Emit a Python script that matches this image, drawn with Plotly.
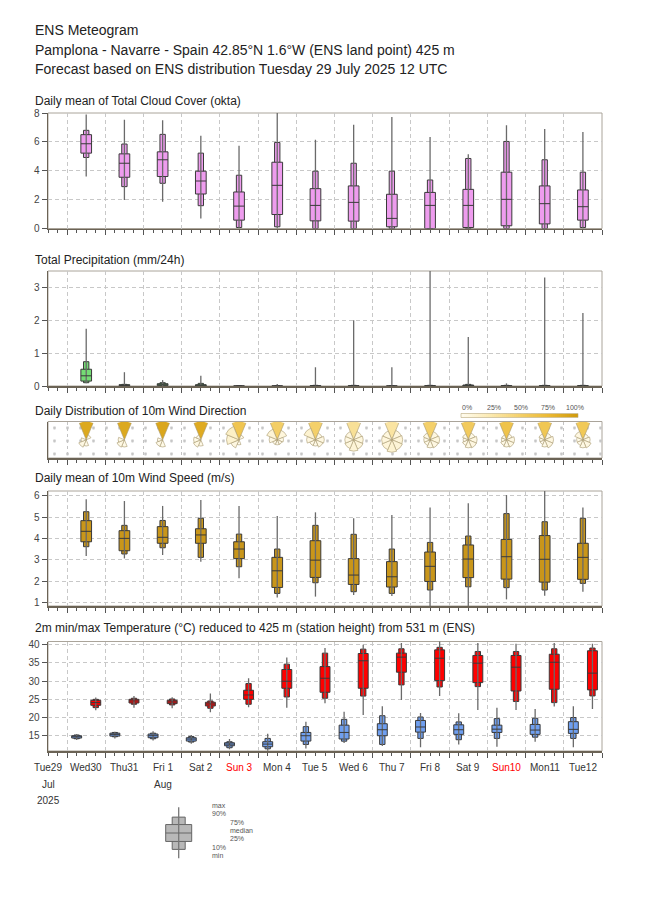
import plotly.graph_objects as go
import numpy as np

W, H = 650, 916
FONT = "Liberation Sans, Arial, Helvetica, sans-serif"

# ---------------- data ----------------
day_labels = ["Tue29", "Wed30", "Thu31", "Fri 1", "Sat 2", "Sun 3", "Mon 4", "Tue 5",
              "Wed 6", "Thu 7", "Fri 8", "Sat 9", "Sun10", "Mon11", "Tue12"]
sunday_labels = ["Sun 3", "Sun10"]
month_labels = ["Jul", "Aug"]
month_label_day = [0, 3]
year_label = "2025"
forecast_days = list(range(1, 15))   # Wed30 .. Tue12

# Total cloud cover (okta): min, p10, p25, median, p75, p90, max
cc_min = [3.6, 1.97, 1.86, 0.7, 0, 0, 0, 0, 0, 0, 0, 0, 0, 0]
cc_p10 = [4.92, 2.9, 3.13, 1.58, 0.07, 0.12, 0, 0, 0, 0, 0, 0, 0, 0.07]
cc_p25 = [5.22, 3.55, 3.6, 2.39, 0.58, 0.97, 0.53, 0.51, 0.12, 0, 0.07, 0.19, 0.32, 0.58]
cc_med = [5.87, 4.52, 4.76, 3.29, 1.55, 2.99, 1.6, 1.81, 0.7, 1.6, 1.6, 2.02, 1.72, 1.51]
cc_p75 = [6.5, 5.17, 5.31, 3.97, 2.53, 4.59, 2.76, 2.95, 2.37, 2.5, 2.71, 3.9, 2.95, 2.67]
cc_p90 = [6.8, 5.85, 6.52, 5.22, 3.69, 5.96, 3.97, 4.52, 3.97, 3.36, 4.85, 6.03, 4.76, 3.9]
cc_max = [7.9, 7.54, 7.49, 6.43, 5.73, 8.0, 6.15, 7.19, 7.73, 6.33, 5.15, 7.15, 6.89, 6.68]

# Total precipitation (mm/24h)
pr_min = [0.08, 0, 0, 0, 0, 0, 0, 0, 0, 0, 0, 0, 0, 0]
pr_p10 = [0.1, 0, 0, 0, 0, 0, 0, 0, 0, 0, 0, 0, 0, 0]
pr_p25 = [0.15, 0.01, 0.01, 0, 0, 0, 0, 0, 0, 0, 0, 0, 0, 0]
pr_med = [0.31, 0.02, 0.04, 0.02, 0, 0, 0, 0, 0, 0, 0.01, 0, 0, 0]
pr_p75 = [0.51, 0.04, 0.07, 0.04, 0, 0, 0.01, 0.01, 0, 0.01, 0.03, 0.01, 0.01, 0.01]
pr_p90 = [0.74, 0.05, 0.1, 0.08, 0, 0, 0.02, 0.02, 0, 0.02, 0.05, 0.02, 0.02, 0.02]
pr_max = [1.74, 0.42, 0.18, 0.31, 0.0, 0.06, 0.57, 2.0, 0.57, 4.0, 1.49, 0.08, 3.3, 2.22]

# 10m wind direction: daily frequency per sector N, NE, E, SE, S, SW, W, NW
wd_sectors = [0, 45, 90, 135, 180, 225, 270, 315]
wd_freq = [
    [0.88, 0.02, 0.00, 0.00, 0.03, 0.05, 0.02, 0.00],
    [0.88, 0.00, 0.00, 0.00, 0.04, 0.05, 0.03, 0.00],
    [0.90, 0.00, 0.00, 0.00, 0.04, 0.04, 0.02, 0.00],
    [0.86, 0.00, 0.00, 0.00, 0.03, 0.05, 0.04, 0.02],
    [0.62, 0.02, 0.00, 0.00, 0.02, 0.06, 0.12, 0.16],
    [0.52, 0.08, 0.03, 0.02, 0.02, 0.02, 0.05, 0.10],
    [0.50, 0.04, 0.06, 0.05, 0.03, 0.03, 0.06, 0.12],
    [0.34, 0.06, 0.07, 0.08, 0.10, 0.07, 0.06, 0.06],
    [0.30, 0.08, 0.09, 0.10, 0.12, 0.09, 0.08, 0.07],
    [0.50, 0.06, 0.07, 0.06, 0.05, 0.03, 0.03, 0.04],
    [0.56, 0.04, 0.06, 0.06, 0.05, 0.03, 0.02, 0.03],
    [0.64, 0.03, 0.05, 0.05, 0.04, 0.03, 0.02, 0.02],
    [0.60, 0.04, 0.06, 0.06, 0.04, 0.02, 0.02, 0.03],
    [0.58, 0.03, 0.04, 0.06, 0.05, 0.03, 0.03, 0.06],
]
wd_scale_ticks = [0, 0.25, 0.5, 0.75, 1.0]
wd_scale_text = ["0%", "25%", "50%", "75%", "100%"]

# 10m wind speed (m/s)
ws_min = [3.17, 3.06, 3.22, 2.9, 2.13, 1.23, 1.27, 1.34, 1.3, 0.75, 0.8, 1.14, 1.31, 1.5]
ws_p10 = [3.61, 3.27, 3.56, 3.11, 2.67, 1.42, 1.92, 1.5, 1.42, 1.58, 1.73, 1.69, 1.58, 1.89]
ws_p25 = [3.84, 3.42, 3.77, 3.77, 3.05, 1.7, 2.17, 1.84, 1.72, 1.98, 2.16, 2.09, 1.95, 2.08]
ws_med = [4.33, 4.0, 4.05, 4.16, 3.5, 2.48, 2.98, 2.28, 2.2, 2.69, 3.03, 3.14, 3.02, 3.11]
ws_p75 = [4.83, 4.36, 4.55, 4.45, 3.84, 3.11, 3.89, 3.05, 2.91, 3.36, 3.69, 3.95, 4.13, 3.77]
ws_p90 = [5.25, 4.61, 4.84, 4.94, 4.2, 3.5, 4.61, 4.19, 3.5, 3.81, 4.11, 5.16, 4.78, 4.94]
ws_max = [5.83, 5.75, 5.52, 5.8, 5.52, 5.05, 5.22, 4.94, 5.09, 5.45, 5.64, 6.03, 6.3, 5.45]

# 2m minimum temperature (°C)
tn_min = [13.8, 14.26, 13.7, 12.8, 11.3, 10.86, 11.5, 13.0, 12.2, 11.8, 12.6, 12.0, 13.35, 11.8]
tn_p10 = [14.17, 14.72, 14.17, 13.25, 11.7, 11.4, 12.6, 13.5, 12.6, 14.26, 13.9, 14.26, 14.6, 14.26]
tn_p25 = [14.36, 14.9, 14.45, 13.53, 12.24, 11.97, 13.53, 14.1, 15.0, 16.0, 15.37, 15.9, 15.37, 15.64]
tn_med = [14.72, 15.37, 15.0, 14.08, 12.7, 12.7, 15.0, 15.9, 16.65, 17.4, 16.65, 16.8, 16.56, 16.75]
tn_p75 = [15.0, 15.7, 15.46, 14.45, 13.07, 13.35, 15.9, 17.9, 18.3, 19.2, 18.0, 17.9, 18.1, 18.86]
tn_p90 = [15.2, 15.9, 15.7, 14.8, 13.35, 14.26, 17.5, 19.5, 20.5, 20.15, 18.8, 19.7, 19.8, 20.0]
tn_max = [15.46, 16.1, 16.2, 15.2, 14.1, 15.55, 18.86, 21.6, 23.1, 21.25, 21.2, 22.7, 22.35, 23.1]

# 2m maximum temperature (°C)
tx_min = [22.0, 22.72, 22.54, 21.43, 22.8, 22.72, 23.9, 20.7, 24.83, 25.94, 22.1, 22.1, 23.0, 22.35]
tx_p10 = [22.72, 23.64, 23.46, 22.54, 23.64, 25.66, 25.3, 25.9, 28.97, 28.4, 28.5, 24.4, 24.1, 25.94]
tx_p25 = [23.36, 24.0, 23.82, 23.18, 25.0, 28.05, 26.95, 28.05, 32.46, 30.16, 29.6, 27.3, 27.78, 27.6]
tx_med = [24.1, 24.56, 24.28, 23.73, 26.2, 29.98, 30.8, 35.6, 36.6, 36.3, 34.94, 33.84, 35.2, 32.2]
tx_p75 = [24.74, 25.0, 24.74, 24.2, 27.5, 33.2, 34.0, 37.6, 37.7, 38.6, 37.06, 37.06, 37.4, 38.35]
tx_p90 = [25.0, 25.3, 25.1, 24.56, 29.34, 34.67, 37.7, 38.8, 38.9, 39.3, 38.16, 38.16, 38.9, 39.1]
tx_max = [25.5, 25.94, 25.57, 26.6, 30.8, 36.5, 39.1, 40.0, 40.5, 41.5, 40.5, 40.3, 40.5, 40.3]

# legend (schematic box)
legend_q = [0, 9, 17, 25.5, 34, 41.5, 51.5]
legend_text = ["max", "90%", "75%", "median", "25%", "10%", "min"]

# ---------------- helpers ----------------
def py(p):
    return 1 - p / H

def px(p):
    return p / W

X_LEFT, X_RIGHT = 48, 602
XRANGE = [0.5, 15.0]
panels = [  # (top px, bottom px)
    (113, 228.5),   # cloud
    (271, 386),     # precip
    (421.5, 458),   # wind dir
    (491, 606),     # wind speed
    (641.5, 751),   # temperature
]

fig = go.Figure()

def axn(i):
    return ("x" if i == 1 else f"x{i}"), ("y" if i == 1 else f"y{i}")

def add_boxes(ax, xs, q, fill, wide, narrow, whisk="#6a6a6a", edge="#3a3a3a"):
    mn, p10, p25, med, p75, p90, mx = [np.asarray(v, float) for v in q]
    xa, ya = axn(ax)
    wx, wy = [], []
    for c, a, b in zip(xs, mn, mx):
        wx += [c, c, None]
        wy += [a, b, None]
    fig.add_trace(go.Scatter(x=wx, y=wy, mode="lines", line=dict(color=whisk, width=1.3),
                             xaxis=xa, yaxis=ya, hoverinfo="skip", showlegend=False))
    fig.add_trace(go.Bar(x=xs, y=p90 - p10, base=p10, width=narrow,
                         marker=dict(color=fill, line=dict(color=edge, width=1)),
                         xaxis=xa, yaxis=ya, showlegend=False, hoverinfo="skip"))
    fig.add_trace(go.Bar(x=xs, y=p75 - p25, base=p25, width=wide,
                         marker=dict(color=fill, line=dict(color=edge, width=1)),
                         xaxis=xa, yaxis=ya, showlegend=False, hoverinfo="skip"))
    mx_, my_ = [], []
    for c, m in zip(xs, med):
        mx_ += [c - wide / 2, c + wide / 2, None]
        my_ += [m, m, None]
    fig.add_trace(go.Scatter(x=mx_, y=my_, mode="lines", line=dict(color=edge, width=1),
                             xaxis=xa, yaxis=ya, hoverinfo="skip", showlegend=False))

days = np.asarray(forecast_days, float)
noon = days + 0.5
morning = days + 0.25
evening = days + 0.75

add_boxes(1, noon, [cc_min, cc_p10, cc_p25, cc_med, cc_p75, cc_p90, cc_max], "#ee9cee", 0.28, 0.14)
add_boxes(2, noon, [pr_min, pr_p10, pr_p25, pr_med, pr_p75, pr_p90, pr_max], "#74dc74", 0.28, 0.14)
add_boxes(4, noon, [ws_min, ws_p10, ws_p25, ws_med, ws_p75, ws_p90, ws_max], "#c9961a", 0.28, 0.14)
add_boxes(5, morning, [tn_min, tn_p10, tn_p25, tn_med, tn_p75, tn_p90, tn_max], "#6f9ff0", 0.26, 0.14)
add_boxes(5, evening, [tx_min, tx_p10, tx_p25, tx_med, tx_p75, tx_p90, tx_max], "#ff0000", 0.26, 0.14)

# stippled background of the wind-direction panel
fig.add_trace(go.Bar(x=[(XRANGE[0] + XRANGE[1]) / 2], y=[1], base=[0],
                     width=[XRANGE[1] - XRANGE[0]], xaxis="x3", yaxis="y3",
                     marker=dict(color="rgba(255,255,255,0)", line=dict(width=0),
                                 pattern=dict(shape=".", fgcolor="#c4c4c4",
                                              bgcolor="rgba(255,255,255,0)",
                                              size=13, solidity=0.04)),
                     hoverinfo="skip", showlegend=False))

# legend schematic
add_boxes(6, [0.0], [[v] for v in legend_q], "#b8b8b8", 1.0, 0.5, whisk="#777777", edge="#666666")

# ---------------- axes ----------------
grid_dash = "4px,3px"
yticks = [[0, 2, 4, 6, 8], [0, 1, 2, 3], None, [1, 2, 3, 4, 5, 6], [15, 20, 25, 30, 35, 40]]
yranges = [[0, 8], [0, 3.5], [0, 1], [0.83, 6.22], [10.8, 40.9]]

layout = dict(template="none", width=W, height=H, autosize=False,
              margin=dict(l=0, r=0, t=0, b=0, pad=0, autoexpand=False),
              paper_bgcolor="white", plot_bgcolor="white", barmode="overlay",
              font=dict(family=FONT, color="#333333"), showlegend=False, hovermode=False)
shapes = []
for i, (top, bot) in enumerate(panels, start=1):
    xk = "xaxis" if i == 1 else f"xaxis{i}"
    yk = "yaxis" if i == 1 else f"yaxis{i}"
    wd = (i == 3)
    layout[xk] = dict(domain=[px(X_LEFT), px(X_RIGHT)], range=XRANGE, type="linear",
                      anchor=axn(i)[1], showticklabels=False, ticks="outside", ticklen=5,
                      tickcolor="#555555", tick0=0, dtick=1, showgrid=True,
                      gridcolor="#c8c8c8" if not wd else "#c4c4c4",
                      griddash="dot" if wd else grid_dash, gridwidth=1,
                      showline=True, linecolor="#6b6355", linewidth=1.5, zeroline=False,
                      automargin=False,
                      minor=dict(dtick=0.25, tick0=0, ticks="outside", ticklen=3,
                                 tickcolor="#555555", showgrid=False),
                      fixedrange=True)
    ydict = dict(domain=[py(bot), py(top)], range=yranges[i - 1], anchor=axn(i)[0],
                 type="linear", showline=True, linecolor="#6b6355", linewidth=1.5,
                 zeroline=False, showgrid=True, gridcolor="#c8c8c8", griddash=grid_dash,
                 gridwidth=1, fixedrange=True, automargin=False)
    if wd:
        ydict.update(showticklabels=False, ticks="", showgrid=False)
    else:
        ydict.update(tickvals=yticks[i - 1], ticks="outside", ticklen=5, tickcolor="#555555",
                     tickfont=dict(size=10, color="#444444"))
    layout[yk] = ydict
    shapes.append(dict(type="rect", xref=f"{axn(i)[0]} domain", yref=f"{axn(i)[1]} domain",
                       x0=0, x1=1, y0=0, y1=1, line=dict(color="#aaa49a", width=1),
                       layer="below"))

# legend axes
layout["xaxis6"] = dict(domain=[px(163.1), px(194.3)], range=[-0.6, 0.6], visible=False,
                        anchor="y6", fixedrange=True, automargin=False)
layout["yaxis6"] = dict(domain=[py(860.3), py(804.7)], range=[-2, 54], visible=False,
                        anchor="x6", fixedrange=True, automargin=False)

# ---------------- wind roses ----------------
colorscale = [[0, "#fffcf0"], [0.25, "#fbe9b0"], [0.5, "#f4d06a"], [0.75, "#ebb933"],
              [1, "#cf9a0c"]]
rmax = np.sqrt(0.25)
cy = (panels[2][0] + panels[2][1]) / 2
rpx = 18
span_px = (X_RIGHT - X_LEFT) / (XRANGE[1] - XRANGE[0])
for k, (d, freqs) in enumerate(zip(noon, wd_freq)):
    key = "polar" if k == 0 else f"polar{k + 1}"
    cx = X_LEFT + (d - XRANGE[0]) * span_px
    layout[key] = dict(domain=dict(x=[px(cx - rpx), px(cx + rpx)], y=[py(cy + rpx), py(cy - rpx)]),
                       bgcolor="rgba(0,0,0,0)",
                       radialaxis=dict(visible=False, range=[0, rmax]),
                       angularaxis=dict(visible=False, rotation=90, direction="clockwise"))
    f = np.asarray(freqs, float)
    mk = dict(color=f, colorscale=colorscale, cmin=0, cmax=1,
              line=dict(color="#a8986e", width=0.6), showscale=False)
    fig.add_trace(go.Barpolar(r=np.sqrt(f), theta=wd_sectors, width=[45] * 8, marker=mk,
                              subplot=key, hoverinfo="skip", showlegend=False))

# colour scale bar (legend of the rose colours)
scale_z = np.linspace(0, 1, 60)
fig.add_trace(go.Heatmap(z=[scale_z], x=scale_z, y=[0], colorscale=colorscale, zmin=0, zmax=1,
                         showscale=False, xaxis="x7", yaxis="y7", hoverinfo="skip"))
layout["xaxis7"] = dict(domain=[px(461), px(578)], range=[0, 1], visible=False, anchor="y7",
                        fixedrange=True, automargin=False)
layout["yaxis7"] = dict(domain=[py(417.5), py(413.5)], range=[-0.5, 0.5], visible=False,
                        anchor="x7", fixedrange=True, automargin=False)
shapes.append(dict(type="rect", xref="x7 domain", yref="y7 domain", x0=0, x1=1, y0=0, y1=1,
                   line=dict(color="#b8a878", width=0.6), layer="above"))

# ---------------- annotations ----------------
ann = []
def text(x, y, s, size, color="#222222", xanchor="left", xref="paper"):
    ann.append(dict(x=x, y=y, xref=xref, yref="paper", text=s, showarrow=False,
                    xanchor=xanchor, yanchor="middle", font=dict(size=size, color=color, family=FONT)))

text(px(33), py(30), "ENS Meteogram", 14)
text(px(33), py(50), "Pamplona - Navarre - Spain 42.85°N 1.6°W (ENS land point) 425 m", 14)
text(px(33), py(69), "Forecast based on ENS distribution Tuesday 29 July 2025 12 UTC", 14)

panel_titles = ["Daily mean of Total Cloud Cover (okta)", "Total Precipitation (mm/24h)",
                "Daily Distribution of 10m Wind Direction", "Daily mean of 10m Wind Speed (m/s)",
                "2m min/max Temperature (°C) reduced to 425 m (station height) from 531 m (ENS)"]
title_y = [101, 260, 411, 478, 628]
for t, yy in zip(panel_titles, title_y):
    text(px(33), py(yy), t, 12)

# colour scale labels
for v, s in zip(wd_scale_ticks, wd_scale_text):
    text(px(466.7 + v * 108.3), py(408), s, 7, color="#555555", xanchor="center")

# date labels
for k, lab in enumerate(day_labels):
    col = "#ff0000" if lab in sunday_labels else "#333333"
    text(k + 0.5, py(767), lab, 10, color=col, xanchor="center", xref="x5")
for lab, d in zip(month_labels, month_label_day):
    text(d + 0.5, py(784), lab, 10, color="#333333", xanchor="center", xref="x5")
text(0.5, py(800), year_label, 10, color="#333333", xanchor="center", xref="x5")

# legend labels
leg_pos = [(210, 805), (210, 813), (228, 822), (228, 830), (228, 838), (210, 847), (210, 855)]
for s, (lx, ly) in zip(legend_text, leg_pos):
    text(px(lx), py(ly), s, 7, color="#555555")

layout["annotations"] = ann
layout["shapes"] = shapes
fig.update_layout(**layout)
fig.write_html("out.html", config={"displayModeBar": False, "staticPlot": True},
               post_script="document.body.style.margin='0';document.body.style.overflow='hidden';")
